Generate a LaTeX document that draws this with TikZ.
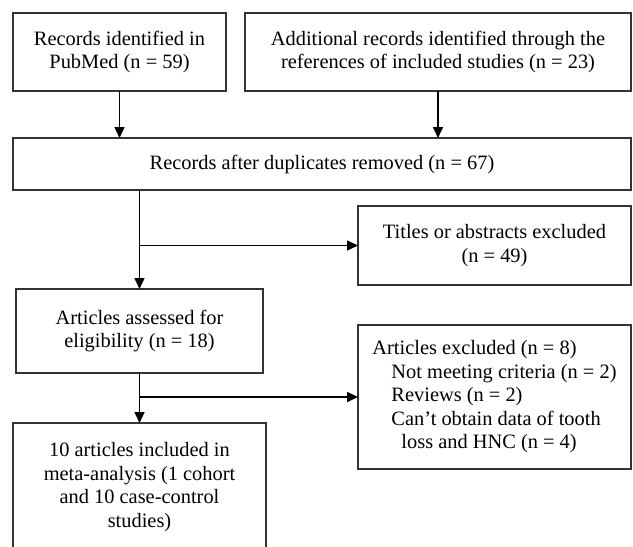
\documentclass[tikz,border=0pt]{standalone}
\usepackage{fontspec}
\setmainfont{Liberation Serif}
\usetikzlibrary{arrows.meta,positioning}
\definecolor{ink}{HTML}{000000}
\definecolor{frame}{HTML}{333333}
\tikzset{
  >={Triangle[length=11pt,width=10pt]},
  every node/.style={font=\fontsize{20.4pt}{23.5pt}\selectfont,text=ink},
  stage/.style={draw=frame,line width=1.5pt,fill=white,align=center,inner sep=0pt,outer sep=0pt},
  listbox/.style={stage,align=left},
  arrow/.style={->,line width=1.6pt,draw=ink}
}

\begin{document}
\begin{tikzpicture}[x=1pt,y=-1pt]
  \useasboundingbox (0,0) rectangle (633,547);

  \node[stage,minimum width=213pt,minimum height=78pt] (pubmed) at (119.5,52) {Records identified in\\PubMed (n = 59)};
  \node[stage,minimum width=386pt,minimum height=78pt,right=19pt of pubmed] (refs) {Additional records identified through the\\references of included studies (n = 23)};
  \node[stage,minimum width=618pt,minimum height=52pt,below=47pt of pubmed.south west,anchor=north west] (dedup) {Records after duplicates removed (n = 67)};

  \node[stage,minimum width=247pt,minimum height=84pt] (assess) at (139.5,331) {Articles assessed for\\eligibility (n = 18)};
  \node[stage,minimum width=253pt,minimum height=128pt,below=50pt of assess] (incl) {10 articles included in\\meta-analysis (1 cohort\\and 10 case-control\\studies)};

  \node[stage,minimum width=273pt,minimum height=79pt] (titles) at (494.5,245.5) {Titles or abstracts excluded\\(n = 49)};
  \node[listbox,minimum width=273pt,minimum height=144pt,below=40pt of titles] (excl) {Articles excluded (n = 8)\\\hspace*{19pt}Not meeting criteria (n = 2)\\\hspace*{19pt}Reviews (n = 2)\\\hspace*{19pt}Can’t obtain data of tooth\\\hspace*{29pt}loss and HNC (n = 4)};

  \draw[arrow] (pubmed) -- (pubmed |- dedup.north);
  \draw[arrow] (refs) -- (refs |- dedup.north);
  \draw[arrow] (dedup.south -| assess.north) -- (assess.north);
  \draw[arrow] (titles.west -| assess.north) -- (titles.west);
  \draw[arrow] (assess) -- (incl);
  \draw[arrow] (excl.west -| assess.south) -- (excl.west);
\end{tikzpicture}
\end{document}
